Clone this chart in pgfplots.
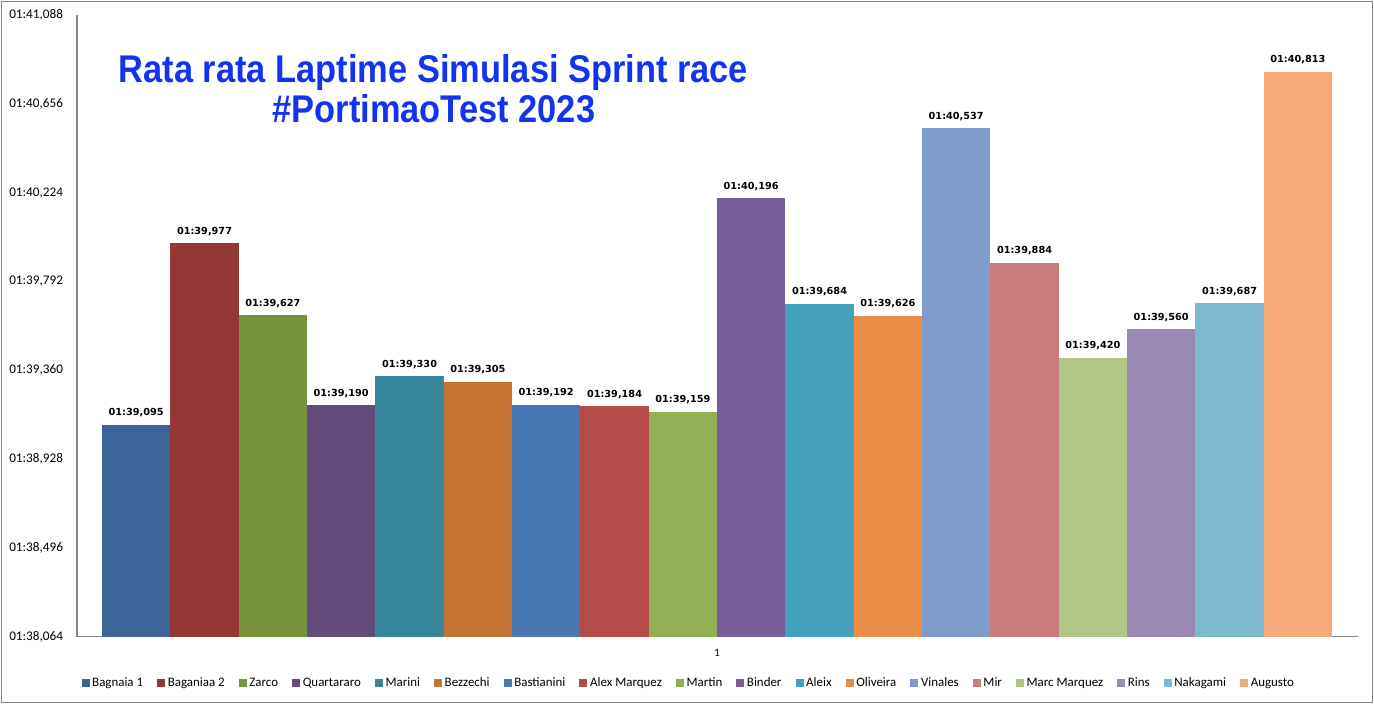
\documentclass[border=0pt]{standalone}
\usepackage{pgfplots}
\pgfplotsset{compat=1.18}
\usepackage{fontspec}
\setmainfont{Carlito}
\newfontfamily\titlefont[FakeStretch=0.89]{Liberation Sans}
\newfontfamily\valfont{DejaVu Sans}
\definecolor{c1}{HTML}{3D6499}
\definecolor{c2}{HTML}{953735}
\definecolor{c3}{HTML}{77933C}
\definecolor{c4}{HTML}{634C7C}
\definecolor{c5}{HTML}{37869B}
\definecolor{c6}{HTML}{C47333}
\definecolor{c7}{HTML}{4877B1}
\definecolor{c8}{HTML}{B44B49}
\definecolor{c9}{HTML}{92AF55}
\definecolor{c10}{HTML}{775C98}
\definecolor{c11}{HTML}{45A1BB}
\definecolor{c12}{HTML}{E88D43}
\definecolor{c13}{HTML}{7F9BC9}
\definecolor{c14}{HTML}{C97C7B}
\definecolor{c15}{HTML}{AFC686}
\definecolor{c16}{HTML}{9B89B5}
\definecolor{c17}{HTML}{7DBAD0}
\definecolor{c18}{HTML}{F6A979}
\definecolor{titleblue}{RGB}{18,52,240}
\definecolor{axgray}{HTML}{868686}
\begin{document}
\begin{tikzpicture}
\useasboundingbox (0pt,0pt) rectangle (1030.5pt,528pt);
\draw[axgray,line width=1.1pt] (1.125pt,1.125pt) rectangle (1029.375pt,526.875pt);
\begin{axis}[
  at={(57.75pt,50.475pt)}, anchor=south west,
  scale only axis, width=960.75pt, height=466.3pt,
  ybar, bar width=1, bar shift=0pt,
  xmin=-0.866, xmax=17.88,
  ymin=98.064, ymax=101.088,
  axis lines*=left,
  axis line style={axgray,line width=0.9pt},
  major tick length=0pt,
  xtick={8.5}, xticklabels={1},
  xticklabel style={font=\fontsize{8.5}{10}\selectfont, yshift=-6pt},
  ytick={98.064,98.496,98.928,99.360,99.792,100.224,100.656,101.088},
  yticklabels={{01:38,064},{01:38,496},{01:38,928},{01:39,360},{01:39,792},{01:40,224},{01:40,656},{01:41,088}},
  yticklabel style={font=\fontsize{9.9}{12}\selectfont, xshift=-7pt},
  point meta=explicit symbolic,
  nodes near coords,
  nodes near coords style={font=\valfont\bfseries\fontsize{7.3}{9}\selectfont, anchor=base, yshift=6.75pt, black},
  legend columns=18,
  legend style={at={(0.4778,-0.0745)}, anchor=center, draw=none, fill=none,
    font=\fontsize{9.7}{11}\selectfont,
    /tikz/every even column/.append style={column sep=8.5pt},
    inner sep=0pt},
  legend image code/.code={\fill[#1,draw=none] (0pt,-3pt) rectangle (6pt,3pt);},
  clip=false,
]
\addplot[fill=c1,draw=none] coordinates {(0,99.095) [01:39,095]};
\addlegendentry{Bagnaia 1}
\addplot[fill=c2,draw=none] coordinates {(1,99.977) [01:39,977]};
\addlegendentry{Baganiaa 2}
\addplot[fill=c3,draw=none] coordinates {(2,99.627) [01:39,627]};
\addlegendentry{Zarco}
\addplot[fill=c4,draw=none] coordinates {(3,99.190) [01:39,190]};
\addlegendentry{Quartararo}
\addplot[fill=c5,draw=none] coordinates {(4,99.330) [01:39,330]};
\addlegendentry{Marini}
\addplot[fill=c6,draw=none] coordinates {(5,99.305) [01:39,305]};
\addlegendentry{Bezzechi}
\addplot[fill=c7,draw=none] coordinates {(6,99.192) [01:39,192]};
\addlegendentry{Bastianini}
\addplot[fill=c8,draw=none] coordinates {(7,99.184) [01:39,184]};
\addlegendentry{Alex Marquez}
\addplot[fill=c9,draw=none] coordinates {(8,99.159) [01:39,159]};
\addlegendentry{Martin}
\addplot[fill=c10,draw=none] coordinates {(9,100.196) [01:40,196]};
\addlegendentry{Binder}
\addplot[fill=c11,draw=none] coordinates {(10,99.684) [01:39,684]};
\addlegendentry{Aleix}
\addplot[fill=c12,draw=none] coordinates {(11,99.626) [01:39,626]};
\addlegendentry{Oliveira}
\addplot[fill=c13,draw=none] coordinates {(12,100.537) [01:40,537]};
\addlegendentry{Vinales}
\addplot[fill=c14,draw=none] coordinates {(13,99.884) [01:39,884]};
\addlegendentry{Mir}
\addplot[fill=c15,draw=none] coordinates {(14,99.420) [01:39,420]};
\addlegendentry{Marc Marquez}
\addplot[fill=c16,draw=none] coordinates {(15,99.560) [01:39,560]};
\addlegendentry{Rins}
\addplot[fill=c17,draw=none] coordinates {(16,99.687) [01:39,687]};
\addlegendentry{Nakagami}
\addplot[fill=c18,draw=none] coordinates {(17,100.813) [01:40,813]};
\addlegendentry{Augusto}
\end{axis}
\node[anchor=base, inner sep=0pt, text=titleblue, font=\titlefont\bfseries\fontsize{29}{34}\selectfont] at (325.125pt,466.125pt) {Rata rata Laptime Simulasi Sprint race};
\node[anchor=base, inner sep=0pt, text=titleblue, font=\titlefont\bfseries\fontsize{29}{34}\selectfont] at (325.5pt,435.75pt) {\#PortimaoTest 2023};
\end{tikzpicture}
\end{document}
